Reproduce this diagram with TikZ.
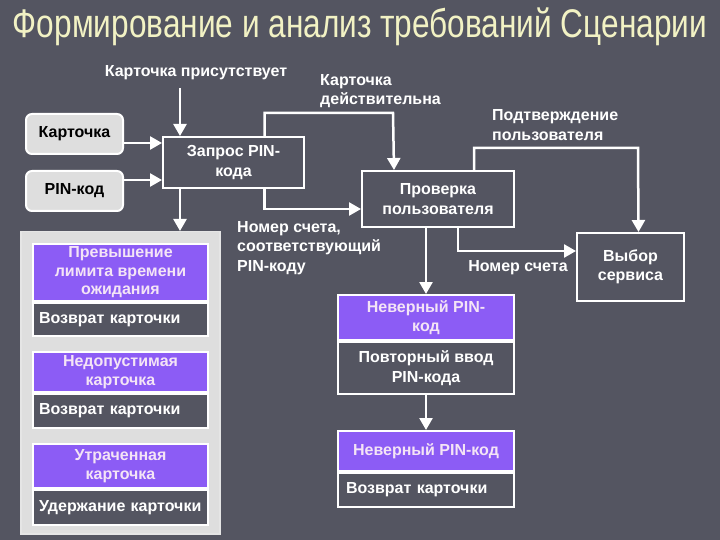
\documentclass[tikz,border=0pt]{standalone}
\usepackage{fontspec}
\setmainfont{Liberation Sans}
\usepackage{graphicx}
\usetikzlibrary{arrows.meta}
\definecolor{slide bg}{RGB}{84,85,97}
\definecolor{head fill}{RGB}{140,92,245}
\definecolor{head text}{RGB}{244,228,246}
\definecolor{title text}{RGB}{242,242,196}
\colorlet{src fill}{black!13}
\colorlet{panel fill}{black!13}
\newcommand{\lbl}{\fontsize{16bp}{19.5bp}\selectfont\bfseries}
\tikzset{box/.style={draw=white, line width=2bp, inner sep=0pt, align=center,
        font=\lbl, anchor=north west},
    proc/.style={box, fill=slide bg, text=white},
    head/.style={box, fill=head fill, text=head text, font=\fontsize{16bp}{18.5bp}\selectfont\bfseries},
    body/.style={box, fill=slide bg, text=white},
    src/.style={box, fill=src fill, text=black, rounded corners=6bp},
    lbl/.style={text=white, font=\lbl, inner sep=0pt, align=left},
    conn/.style={draw=white, line width=2.5bp, -{Triangle[length=12bp,width=13bp]}}}

\begin{document}
\begin{tikzpicture}[x=1bp, y=-1bp]
    \fill[slide bg] (0,0) rectangle (720,540);
    \node[text=title text, font=\fontsize{40bp}{42bp}\selectfont] (title) at (360,27)
      {\scalebox{0.79}[1]{Формирование и анализ требований Сценарии}};
    % source boxes
    \node[src, minimum width=97bp, minimum height=40bp] (card) at (25,113) {Карточка};
    \node[src, minimum width=97bp, minimum height=40bp] (pin) at (25,170) {PIN-код};
    % main steps
    \node[proc, minimum width=141bp, minimum height=51bp] (query) at (162,136) {Запрос PIN-\\кода};
    \node[proc, minimum width=152bp, minimum height=56bp] (check) at (361,170) {Проверка\\пользователя};
    \node[proc, minimum width=107bp, minimum height=68bp] (choice) at (576,232) {Выбор\\сервиса};
    % exceptions panel
    \node[box, fill=panel fill, draw=white!90!black, line width=1.5bp,
      minimum width=199bp, minimum height=302bp] (panel) at (20,231) {};
    \node[head, minimum width=175bp, minimum height=57bp] (timeout) at (32,243)
      {Превышение\\лимита времени\\ожидания};
    \node[body, minimum width=175bp, minimum height=33bp, text width=163bp, align=left]
      (eject1) at (timeout.south west) {Возврат карточки};
    \node[head, minimum width=175bp, minimum height=40bp] (invalid) at (32,351)
      {Недопустимая\\карточка};
    \node[body, minimum width=175bp, minimum height=34bp, text width=163bp, align=left]
      (eject2) at (invalid.south west) {Возврат карточки};
    \node[head, minimum width=175bp, minimum height=44bp] (lost) at (32,443)
      {Утраченная\\карточка};
    \node[body, minimum width=175bp, minimum height=35bp, text width=163bp, align=left]
      (retain) at (lost.south west) {Удержание карточки};
    % wrong pin
    \node[head, minimum width=176bp, minimum height=45bp] (wrong1) at (337,294)
      {Неверный PIN-\\код};
    \node[body, minimum width=176bp, minimum height=52bp] (retry) at (wrong1.south west)
      {Повторный ввод\\PIN-кода};
    \node[head, minimum width=176bp, minimum height=40bp] (wrong2) at (337,430)
      {Неверный PIN-код};
    \node[body, minimum width=176bp, minimum height=34bp, text width=160bp, align=left]
      (eject3) at (wrong2.south west) {Возврат карточки};
    % labels
    \node[lbl] (present) at (196,73) {Карточка присутствует};
    \node[lbl, anchor=west] (valid) at (320,91) {Карточка\\действительна};
    \node[lbl, anchor=west] (account) at (237,248) {Номер счета,\\соответствующий\\PIN-коду};
    \node[lbl, anchor=west] (confirm) at (492,125) {Подтверждение\\пользователя};
    \node[lbl] (number) at (518,268) {Номер счета};
    % connectors
    \coordinate (p1) at (180,88);
    \draw[conn] (p1) -- (p1 |- query.north);
    \draw[conn] ([yshift=-9bp]card.east) -- ([yshift=-9bp]card.east -| query.west);
    \draw[conn] ([yshift=11bp]pin.east) -- ([yshift=11bp]pin.east -| query.west);
    \draw[conn] (query.south -| p1) -- (p1 |- panel.north);
    \draw[conn] ([xshift=31bp]query.north) |- (393,113) -- ([xshift=-44bp]check.north);
    \draw[conn] ([xshift=31bp]query.south) |- ([yshift=-10bp]check.west);
    \draw[conn] ([xshift=36bp]check.north) |- (638,148) -- ([xshift=8bp]choice.north);
    \draw[conn] ([xshift=20bp]check.south) |- ([yshift=16bp]choice.west);
    \draw[conn] (check.south -| wrong1.north) -- (wrong1.north);
    \draw[conn] (retry.south) -- (wrong2.north);
\end{tikzpicture}
\end{document}
